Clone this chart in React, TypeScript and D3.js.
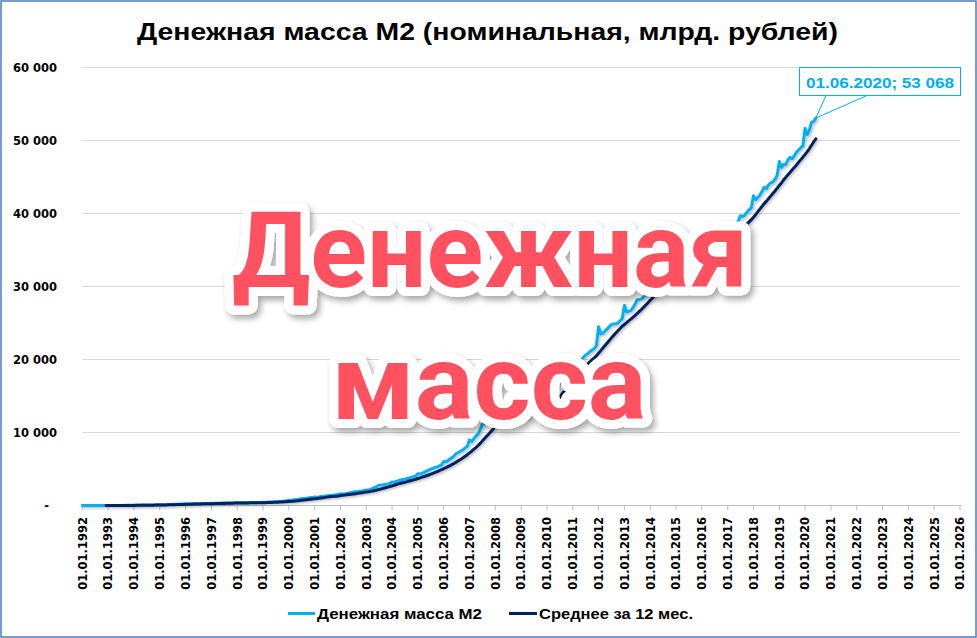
import React from "react";
import * as d3 from "d3";

const W = 977;
const H = 638;

const TITLE = "Денежная масса М2 (номинальная, млрд. рублей)";
const SERIES_NAMES = ["Денежная масса М2", "Среднее за 12 мес."];
const SERIES_COLORS = ["#00B0F0", "#002060"];
const OVERLAY_LINES = ["Денежная", "масса"];

const Y_TICKS = [0, 10000, 20000, 30000, 40000, 50000, 60000];
const X_TICK_YEARS = [
  1992, 1993, 1994, 1995, 1996, 1997, 1998, 1999, 2000, 2001, 2002, 2003,
  2004, 2005, 2006, 2007, 2008, 2009, 2010, 2011, 2012, 2013, 2014, 2015,
  2016, 2017, 2018, 2019, 2020, 2021, 2022, 2023, 2024, 2025, 2026,
];

// Monthly M2 (bn rubles), value on the 1st of each month
const m2_1992 = [0.9, 1.0, 1.1, 1.2, 1.4, 1.7, 2.1, 2.6, 3.0, 3.4, 3.8, 4.5];
const m2_1993 = [5.3, 6.0, 7.0, 8.3, 9.8, 11.5, 13.5, 15.9, 18.5, 22.0, 26.0, 29.5];
const m2_1994 = [33.2, 37.0, 41.5, 46.0, 51.5, 57.0, 62.0, 67.5, 72.0, 78.0, 85.0, 90.0];
const m2_1995 = [97.8, 104, 110, 119, 130, 143, 155, 165, 175, 185, 195, 206];
const m2_1996 = [220.8, 218, 222, 226, 230, 240, 244, 247, 250, 255, 260, 270];
const m2_1997 = [295.2, 293, 298, 306, 314, 326, 332, 340, 346, 352, 356, 362];
const m2_1998 = [374.1, 360, 362, 364, 368, 370, 372, 376, 380, 390, 405, 420];
const m2_1999 = [448.3, 438, 455, 470, 490, 515, 530, 545, 560, 590, 620, 660];
const m2_2000 = [714.6, 715, 745, 790, 830, 880, 920, 960, 990, 1040, 1080, 1110];
const m2_2001 = [1154.4, 1140, 1170, 1220, 1260, 1310, 1350, 1375, 1400, 1431, 1470, 1510];
const m2_2002 = [1612.6, 1580, 1610, 1660, 1720, 1770, 1846, 1870, 1900, 1950, 2000, 2060];
const m2_2003 = [2134.5, 2110, 2200, 2330, 2480, 2600, 2779, 2800, 2840, 2900, 2960, 3030];
const m2_2004 = [3212.7, 3200, 3310, 3420, 3500, 3560, 3613, 3690, 3770, 3870, 3960, 4060];
const m2_2005 = [4363.3, 4300, 4440, 4550, 4710, 4840, 4981, 5080, 5210, 5290, 5440, 5570];
const m2_2006 = [6032.1, 5980, 6130, 6390, 6560, 6850, 7153, 7290, 7470, 7640, 7900, 8100];
const m2_2007 = [8995.8, 8743, 9119, 9500, 9773, 10400, 11141, 11200, 11300, 11497, 11800, 12100];
const m2_2008 = [13272.1, 12700, 12880, 13100, 13300, 13900, 14244, 14300, 14200, 14374, 13520, 13383];
const m2_2009 = [12975.9, 12370, 11986, 12105, 12400, 12600, 12690, 12800, 13000, 13249, 13500, 13900];
const m2_2010 = [15267.6, 15100, 15500, 15900, 16400, 16700, 17000, 17300, 17600, 18000, 18400, 18700];
const m2_2011 = [20011.9, 19300, 19400, 19700, 20000, 20300, 20600, 20800, 21100, 21300, 21500, 21900];
const m2_2012 = [24483.1, 23500, 23600, 23900, 24200, 24500, 24800, 24850, 24900, 25000, 25300, 25600];
const m2_2013 = [27405.4, 26500, 26600, 26700, 27100, 27600, 28200, 28200, 28300, 28600, 28900, 29200];
const m2_2014 = [31404.7, 30200, 30200, 30100, 30400, 30600, 30300, 30500, 30700, 30900, 31000, 31000];
const m2_2015 = [31615.7, 31200, 31000, 31300, 31700, 32300, 32800, 32700, 32800, 33000, 33300, 33400];
const m2_2016 = [35179.7, 34600, 34800, 35000, 35400, 35600, 36000, 36200, 36300, 36700, 36900, 37100];
const m2_2017 = [38417.9, 37600, 37800, 38000, 38500, 39000, 39700, 39600, 39800, 40200, 40500, 40800];
const m2_2018 = [42442.2, 41900, 42200, 42500, 43000, 43600, 43400, 43900, 44200, 44300, 44700, 45200];
const m2_2019 = [47109.3, 46300, 46700, 46700, 47300, 47700, 47500, 47900, 48400, 48700, 49000, 49300];
const m2_2020 = [51660.3, 50800, 51400, 52500, 52600, 53068];

const M2_YEARS: [number, number[]][] = [
  [1992, m2_1992], [1993, m2_1993], [1994, m2_1994], [1995, m2_1995],
  [1996, m2_1996], [1997, m2_1997], [1998, m2_1998], [1999, m2_1999],
  [2000, m2_2000], [2001, m2_2001], [2002, m2_2002], [2003, m2_2003],
  [2004, m2_2004], [2005, m2_2005], [2006, m2_2006], [2007, m2_2007],
  [2008, m2_2008], [2009, m2_2009], [2010, m2_2010], [2011, m2_2011],
  [2012, m2_2012], [2013, m2_2013], [2014, m2_2014], [2015, m2_2015],
  [2016, m2_2016], [2017, m2_2017], [2018, m2_2018], [2019, m2_2019],
  [2020, m2_2020],
];

type Pt = { date: Date; value: number };

const m2Series: Pt[] = M2_YEARS.flatMap(([year, vals]) =>
  vals.map((v, i) => ({ date: new Date(year, i, 1), value: v }))
);

// trailing 12‑month mean ("Среднее за 12 мес.")
const avgSeries: Pt[] = m2Series
  .map((p, i) =>
    i < 11
      ? null
      : { date: p.date, value: d3.mean(m2Series.slice(i - 11, i + 1), (d) => d.value) as number }
  )
  .filter((d): d is Pt => d !== null);

const PLOT = { left: 82.3, right: 960, top: 67.5, bottom: 505.5 };

export default function App() {
  const x = d3
    .scaleTime()
    .domain([new Date(1992, 0, 1), new Date(2026, 0, 1)])
    .range([PLOT.left, PLOT.right]);
  const y = d3.scaleLinear().domain([0, 60000]).range([PLOT.bottom, PLOT.top]);

  const line = d3
    .line<Pt>()
    .x((d) => x(d.date))
    .y((d) => y(d.value));

  const fmtNum = (v: number) => {
    if (v === 0) return "-";
    return d3.format(",.0f")(v).replace(/,/g, " ");
  };
  const fmtDate = d3.timeFormat("%d.%m.%Y");

  const last = m2Series[m2Series.length - 1];
  const lx = x(last.date);
  const ly = y(last.value);

  const font = "'DejaVu Sans', Verdana, sans-serif";
  const fontTitle = "'Liberation Sans', Arial, sans-serif";

  return (
    <svg
      width={W}
      height={H}
      viewBox={`0 0 ${W} ${H}`}
      style={{ position: "absolute", left: 0, top: 0, background: "#fff" }}
    >
      <defs>
        <filter id="lineShadow" x="-5%" y="-5%" width="110%" height="110%">
          <feDropShadow dx="1.5" dy="1.5" stdDeviation="1" floodColor="#000" floodOpacity="0.25" />
        </filter>
        <filter id="textShadow" x="-10%" y="-20%" width="120%" height="140%">
          <feDropShadow dx="3" dy="4" stdDeviation="3" floodColor="#000" floodOpacity="0.35" />
        </filter>
      </defs>

      <rect x={0} y={0} width={W} height={H} fill="#fff" />

      {/* title */}
      <text
        x={487.5}
        y={39.5}
        textAnchor="middle"
        fontFamily={fontTitle}
        fontWeight="bold"
        fontSize={24}
        textLength={701}
        lengthAdjust="spacingAndGlyphs"
        fill="#000"
      >
        {TITLE}
      </text>

      {/* gridlines */}
      {Y_TICKS.filter((t) => t > 0).map((t) => (
        <line
          key={t}
          x1={PLOT.left}
          x2={PLOT.right}
          y1={y(t)}
          y2={y(t)}
          stroke="#D9D9D9"
          strokeWidth={1}
        />
      ))}

      {/* y labels */}
      {Y_TICKS.map((t) => (
        <text
          key={t}
          x={t === 0 ? 49 : 57}
          y={y(t)}
          dy="0.36em"
          textAnchor="end"
          fontFamily={font}
          fontWeight="bold"
          fontSize={11.5}
          fill="#000"
        >
          {fmtNum(t)}
        </text>
      ))}

      {/* x axis */}
      <line x1={PLOT.left} x2={PLOT.right + 1.5} y1={PLOT.bottom} y2={PLOT.bottom} stroke="#BFBFBF" strokeWidth={1} />
      {X_TICK_YEARS.map((yr) => {
        const tx = x(new Date(yr, 0, 1));
        return (
          <g key={yr}>
            <line x1={tx} x2={tx} y1={PLOT.bottom} y2={PLOT.bottom + 5} stroke="#BFBFBF" strokeWidth={1} />
            <text
              transform={`translate(${tx + 4.3},${517}) rotate(-90)`}
              textAnchor="end"
              fontFamily={font}
              fontWeight="bold"
              fontSize={11.5}
              fill="#000"
            >
              {`01.01.${yr}`}
            </text>
          </g>
        );
      })}

      {/* series */}
      <g filter="url(#lineShadow)">
        <path d={line(m2Series) || ""} fill="none" stroke={SERIES_COLORS[0]} strokeWidth={3} strokeLinejoin="round" strokeLinecap="round" />
        <path d={line(avgSeries) || ""} fill="none" stroke={SERIES_COLORS[1]} strokeWidth={3} strokeLinejoin="round" strokeLinecap="round" />
      </g>

      {/* data label callout */}
      <path
        d={`M${lx},${ly} L${826},${95.5} L${867},${95.5} Z`}
        fill="none"
        stroke={SERIES_COLORS[0]}
        strokeWidth={1}
      />
      <rect x={799.5} y={67.5} width={161} height={28} fill="#fff" stroke={SERIES_COLORS[0]} strokeWidth={1} />
      <text
        x={880}
        y={88}
        textAnchor="middle"
        fontFamily={fontTitle}
        fontWeight="bold"
        fontSize={15}
        textLength={148}
        lengthAdjust="spacingAndGlyphs"
        fill={SERIES_COLORS[0]}
      >
        {`${fmtDate(last.date)};  ${fmtNum(last.value)}`}
      </text>

      {/* legend */}
      <line x1={288} x2={315} y1={613.5} y2={613.5} stroke={SERIES_COLORS[0]} strokeWidth={3} />
      <text x={317} y={619} fontFamily={fontTitle} fontWeight="bold" fontSize={15} textLength={165} lengthAdjust="spacingAndGlyphs" fill="#000">
        {SERIES_NAMES[0]}
      </text>
      <line x1={509} x2={537} y1={613.5} y2={613.5} stroke={SERIES_COLORS[1]} strokeWidth={3} />
      <text x={539} y={619} fontFamily={fontTitle} fontWeight="bold" fontSize={15} textLength={154} lengthAdjust="spacingAndGlyphs" fill="#000">
        {SERIES_NAMES[1]}
      </text>

      {/* overlay caption */}
      <g filter="url(#textShadow)" fontFamily="Roboto, 'Noto Sans', sans-serif" fontWeight="bold" fontSize={105} textAnchor="middle">
        {OVERLAY_LINES.map((t, i) => (
          <text
            key={t}
            x={i === 0 ? 490 : 489}
            y={i === 0 ? 287 : 419}
            fill="#FF515F"
            stroke="#fff"
            strokeWidth={18}
            strokeLinejoin="round"
            paintOrder="stroke"
            textLength={i === 0 ? 516 : 315}
            lengthAdjust="spacingAndGlyphs"
          >
            {t}
          </text>
        ))}
      </g>

      {/* outer border */}
      <rect x={1} y={1} width={W - 2} height={H - 2} fill="none" stroke="#4A7EBB" strokeWidth={1.5} />
    </svg>
  );
}
